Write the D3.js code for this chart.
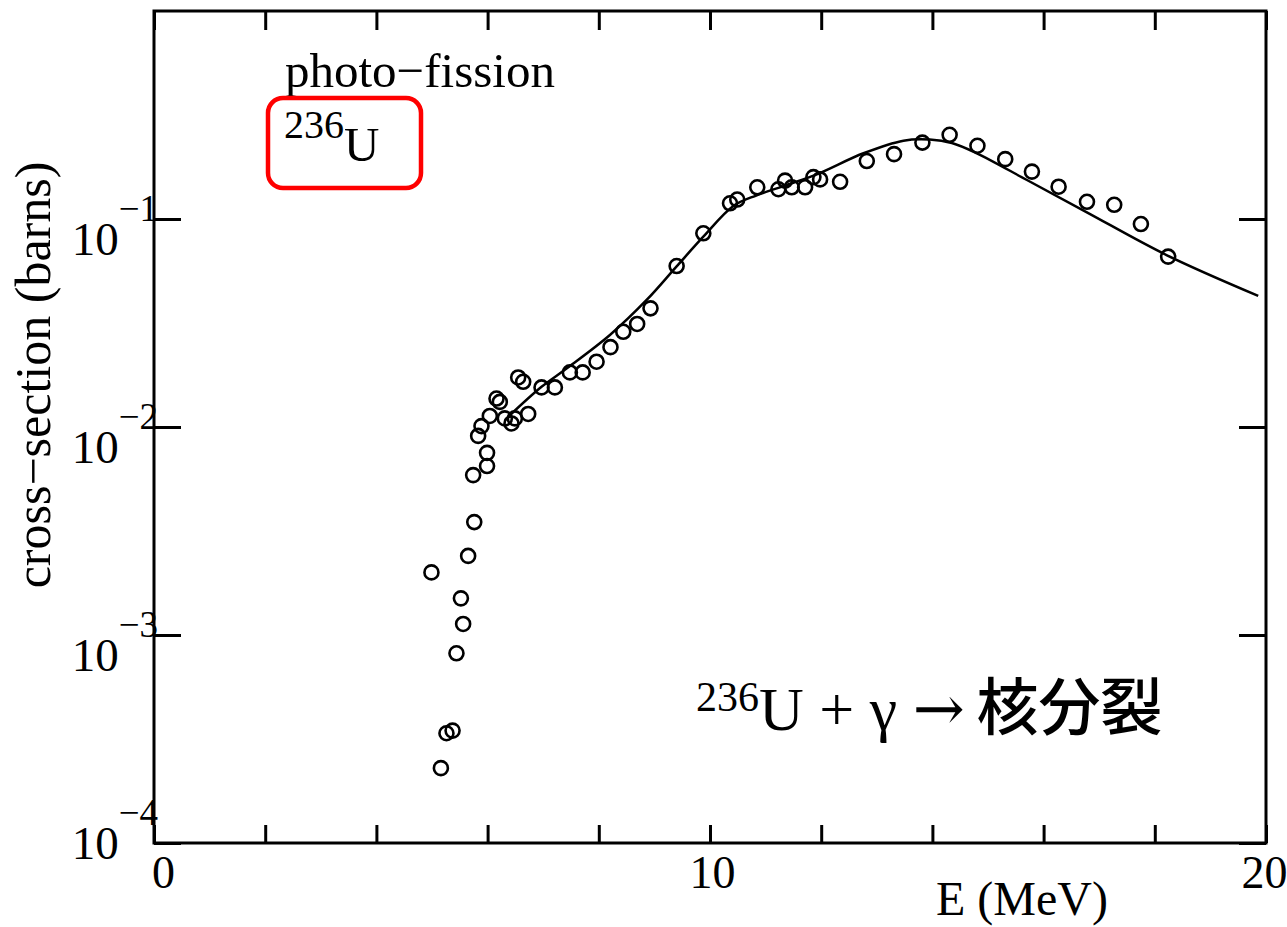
<!DOCTYPE html>
<html lang="ja">
<head>
<meta charset="UTF-8">
<title>photo-fission 236U</title>
<script src="https://d3js.org/d3.v7.min.js"></script>
<style>
  body { margin: 0; background: #fff; }
  svg { display: block; font-family: "Liberation Serif", "DejaVu Serif", serif; }
  .frame { fill: none; stroke: #000; stroke-width: 3; }
  .axis line { stroke: #000; stroke-width: 3; }
  .axis path { display: none; }
  .dot { fill: none; stroke: #000; stroke-width: 2.6; }
  .fit { fill: none; stroke: #000; stroke-width: 2.5; }
</style>
</head>
<body>
<svg id="chart"></svg>
<script>
// measured points (E in MeV, cross-section in barns)
const energy = [4.99, 5.16, 5.26, 5.37, 5.44, 5.52, 5.56, 5.65, 5.76, 5.74,
  5.99, 5.99, 5.83, 5.89, 6.04, 6.16, 6.22, 6.31, 6.43, 6.49,
  6.55, 6.64, 6.73, 6.97, 7.21, 7.48, 7.71, 7.96, 8.21, 8.44,
  8.69, 8.93, 9.40, 9.88, 10.36, 10.49, 10.85, 11.23, 11.35, 11.47,
  11.71, 11.86, 11.98, 12.34, 12.82, 13.31, 13.82, 14.31, 14.81, 15.31,
  15.79, 16.27, 16.78, 17.27, 17.75, 18.24];
const sigma = [2.0e-3, 2.29e-4, 3.37e-4, 3.47e-4, 8.17e-4, 1.50e-3, 1.13e-3, 2.40e-3, 3.49e-3, 5.87e-3,
  7.51e-3, 6.49e-3, 9.06e-3, 1.01e-2, 1.13e-2, 1.37e-2, 1.32e-2, 1.10e-2, 1.04e-2, 1.10e-2,
  1.73e-2, 1.65e-2, 1.155e-2, 1.55e-2, 1.55e-2, 1.83e-2, 1.83e-2, 2.06e-2, 2.42e-2, 2.87e-2,
  3.13e-2, 3.72e-2, 5.94e-2, 8.54e-2, 0.119, 0.124, 0.142, 0.139, 0.153, 0.142,
  0.142, 0.159, 0.155, 0.151, 0.190, 0.205, 0.233, 0.254, 0.225, 0.194,
  0.169, 0.143, 0.121, 0.117, 0.0946, 0.0659];

// calculated curve
const fitEnergy = [6.31, 6.97, 7.42, 8.20, 8.86, 9.40, 9.88, 10.42, 10.84, 11.32,
  11.92, 12.76, 13.48, 13.95, 14.35, 14.80, 15.70, 16.77, 18.21, 19.86];
const fitSigma = [1.08e-2, 1.56e-2, 1.91e-2, 2.77e-2, 4.08e-2, 5.92e-2, 8.22e-2, 0.1155, 0.130, 0.144,
  0.164, 0.207, 0.238, 0.241, 0.232, 0.207, 0.154, 0.108, 0.0671, 0.0427];

// ticks
const xTickValues = [0, 2, 4, 6, 8, 10, 12, 14, 16, 18, 20];
const xTickLabels = ["0", "", "", "", "", "10", "", "", "", "", "20"];
const yTickValues = [1e-4, 1e-3, 1e-2, 1e-1];
const yTickExponents = ["\u22124", "\u22123", "\u22122", "\u22121"];

const width = 1287, height = 927;
const plotLeft = 154, plotRight = 1266, plotTop = 11, plotBottom = 843;

const svg = d3.select("#chart").attr("width", width).attr("height", height);

const x = d3.scaleLinear().domain([0, 20]).range([plotLeft, plotRight]);
const y = d3.scaleLog().domain([1e-4, 1]).range([plotBottom, plotTop]);

// frame
svg.append("rect").attr("class", "frame")
   .attr("x", plotLeft).attr("y", plotTop)
   .attr("width", plotRight - plotLeft).attr("height", plotBottom - plotTop);

// bottom axis
const xAxis = svg.append("g").attr("class", "axis")
   .attr("transform", `translate(0,${plotBottom})`)
   .call(d3.axisBottom(x).tickValues(xTickValues).tickSize(-18).tickPadding(12)
         .tickFormat((d, i) => xTickLabels[i]));
xAxis.selectAll("text").attr("font-size", 46).attr("fill", "#000")
   .attr("font-family", "Liberation Serif")
   .attr("dx", d => d === 0 ? 9 : d === 20 ? -2 : 2);

// top axis, ticks only
svg.append("g").attr("class", "axis")
   .attr("transform", `translate(0,${plotTop})`)
   .call(d3.axisTop(x).tickValues(xTickValues).tickSize(-19).tickFormat(""));

// left axis
const yAxis = svg.append("g").attr("class", "axis")
   .attr("transform", `translate(${plotLeft},0)`)
   .call(d3.axisLeft(y).tickValues(yTickValues).tickSize(-27).tickFormat(""));
yAxis.selectAll(".tick text").remove();
yAxis.selectAll(".tick").each(function(d, i) {
  const base = d === 1e-4 ? 15 : 35;
  const t = d3.select(this).append("text")
     .attr("x", 4).attr("y", base)
     .attr("text-anchor", "end").attr("fill", "#000")
     .attr("font-family", "Liberation Serif");
  t.append("tspan").attr("font-size", 47).text("10");
  t.append("tspan").attr("font-size", 37).attr("dy", -34).text(yTickExponents[i]);
});

// right axis, ticks only
svg.append("g").attr("class", "axis")
   .attr("transform", `translate(${plotRight},0)`)
   .call(d3.axisRight(y).tickValues(yTickValues).tickSize(-27).tickFormat(""));

// axis titles
svg.append("text")
   .attr("x", 1022).attr("y", 915)
   .attr("text-anchor", "middle").attr("font-size", 48)
   .text("E (MeV)");

svg.append("text")
   .attr("transform", "translate(50,375) rotate(-90)")
   .attr("text-anchor", "middle").attr("font-size", 50)
   .text("cross\u2212section (barns)");

// fit curve
const fit = fitEnergy.map((e, i) => [e, fitSigma[i]]);
svg.append("path").datum(fit).attr("class", "fit")
   .attr("d", d3.line().x(d => x(d[0])).y(d => y(d[1])).curve(d3.curveCatmullRom.alpha(0.5)));

// data points
const pts = energy.map((e, i) => [e, sigma[i]]);
svg.selectAll(".dot").data(pts).enter().append("circle")
   .attr("class", "dot")
   .attr("cx", d => x(d[0])).attr("cy", d => y(d[1]))
   .attr("r", 7);

// labels, top left
svg.append("text").attr("x", 285).attr("y", 87).attr("font-size", 49)
   .text("photo\u2212fission");
const iso = svg.append("text").attr("x", 284).attr("y", 138);
iso.append("tspan").attr("font-size", 40).text("236");
iso.append("tspan").attr("font-size", 49).attr("dy", 23).text("U");

svg.append("rect")
   .attr("x", 268).attr("y", 98).attr("width", 153).attr("height", 90)
   .attr("rx", 15).attr("fill", "none")
   .attr("stroke", "#ff0000").attr("stroke-width", 4.5);

// reaction label, lower right
const rx = svg.append("text").attr("x", 696).attr("y", 711);
rx.append("tspan").attr("font-size", 42).text("236");
rx.append("tspan").attr("font-size", 62).attr("dy", 19).text("U + \u03b3 ");
rx.append("tspan").attr("font-size", 62).attr("font-family", "DejaVu Serif").text("\u2192");
rx.append("tspan").attr("font-size", 62).attr("font-family", "Noto Sans CJK JP")
  .attr("font-weight", 500).attr("dx", 12).text("核分裂");
</script>
</body>
</html>
